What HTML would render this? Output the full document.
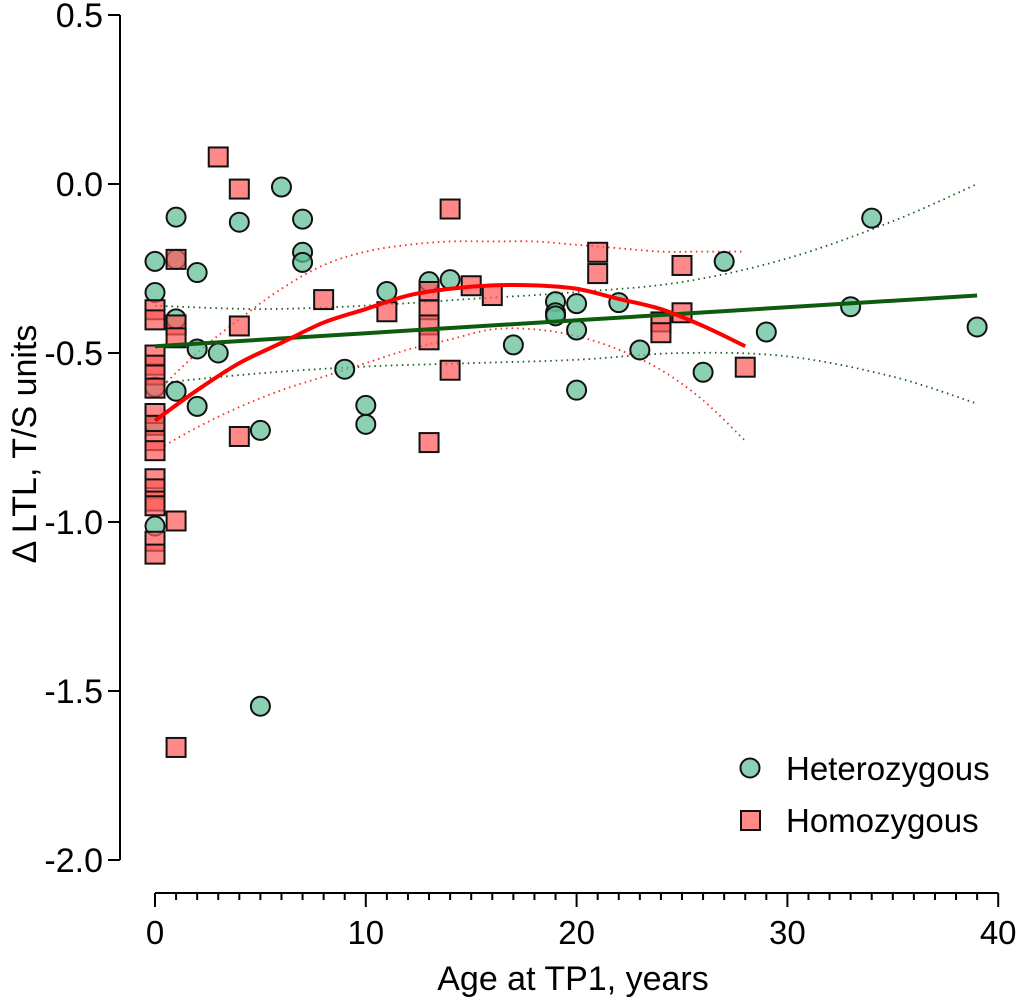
<!DOCTYPE html>
<html><head><meta charset="utf-8"><style>
body{margin:0;background:#fff}
svg text{font-family:"Liberation Sans",sans-serif;fill:#000}
</style></head><body>
<svg id="chart" width="1020" height="1001" viewBox="0 0 1020 1001" xmlns="http://www.w3.org/2000/svg">
<g id="axes"></g>
<g id="fits"></g>
<g id="marks"></g>
<g id="legend">
 <g>
  <circle cx="750" cy="768" r="9.5" fill="rgba(95,190,150,0.72)" stroke="#111" stroke-width="2"/>
  <text x="786" y="780" font-size="33">Heterozygous</text>
 </g>
 <g>
  <rect x="741" y="811" width="19" height="19" fill="rgba(255,90,90,0.72)" stroke="#111" stroke-width="2"/>
  <text x="786" y="832" font-size="33">Homozygous</text>
 </g>
</g>
<text x="573" y="990" font-size="34" text-anchor="middle">Age at TP1, years</text>
<text transform="translate(36,444) rotate(-90)" font-size="34" text-anchor="middle">Δ LTL, T/S units</text>
</svg>
<script>
const hetX=[0,0,0,0,0,1,1,1,1,2,2,2,3,4,5,5,6,7,7,7,9,10,10,11,13,14,17,19,19,19,20,20,20,22,23,26,27,29,33,34,39];
const hetY=[-0.229,-0.321,-0.601,-0.714,-1.012,-0.098,-0.223,-0.399,-0.613,-0.262,-0.488,-0.658,-0.5,-0.113,-0.729,-1.545,-0.009,-0.104,-0.202,-0.232,-0.548,-0.655,-0.711,-0.318,-0.289,-0.283,-0.476,-0.348,-0.381,-0.39,-0.354,-0.432,-0.61,-0.351,-0.491,-0.557,-0.229,-0.438,-0.363,-0.101,-0.423];
const homX=[0,0,0,0,0,0,0,0,0,0,0,0,0,0,0,0,1,1,1,1,1,3,4,4,4,8,11,13,13,13,13,13,14,14,15,16,21,21,24,24,25,25,28];
const homY=[-0.372,-0.402,-0.506,-0.536,-0.565,-0.604,-0.679,-0.714,-0.759,-0.789,-0.872,-0.902,-0.938,-0.952,-1.057,-1.095,-0.223,-0.417,-0.455,-0.997,-1.667,0.08,-0.015,-0.42,-0.747,-0.342,-0.378,-0.318,-0.372,-0.417,-0.461,-0.765,-0.074,-0.551,-0.301,-0.33,-0.202,-0.265,-0.408,-0.44,-0.241,-0.381,-0.542];
const linX=[0,39];
const linY=[-0.48,-0.33];
const gCiX=[0,5,10,15,20,25,30,35,39];
const gCiUp=[-0.36,-0.37,-0.36,-0.34,-0.32,-0.29,-0.22,-0.11,0.0];
const gCiLo=[-0.59,-0.56,-0.54,-0.53,-0.52,-0.50,-0.51,-0.57,-0.65];
const quadX=[0,2,4,6,8,10,12,14,16,18,20,22,24,26,28];
const quadY=[-0.70,-0.61,-0.53,-0.47,-0.41,-0.37,-0.33,-0.31,-0.30,-0.30,-0.31,-0.34,-0.37,-0.42,-0.48];
const rUp=[-0.62,-0.50,-0.40,-0.31,-0.24,-0.20,-0.18,-0.17,-0.17,-0.17,-0.18,-0.19,-0.20,-0.20,-0.20];
const rLo=[-0.79,-0.72,-0.66,-0.61,-0.57,-0.53,-0.49,-0.46,-0.43,-0.43,-0.45,-0.49,-0.55,-0.64,-0.76];
const yTicks=[0.5,0.0,-0.5,-1.0,-1.5,-2.0];
const yTickLabels=["0.5","0.0","-0.5","-1.0","-1.5","-2.0"];
const xTicks=[0,10,20,30,40];

const NS="http://www.w3.org/2000/svg";
const X=v=>155+v*21.08;
const Y=v=>184-v*338;
function mk(tag,attrs,parent){const e=document.createElementNS(NS,tag);for(const k in attrs)e.setAttribute(k,attrs[k]);parent.appendChild(e);return e;}
function smooth(xs,ys){
 const p=xs.map((x,i)=>[X(x),Y(ys[i])]);
 let d='M'+p[0][0]+','+p[0][1];
 for(let i=0;i<p.length-1;i++){
  const p0=p[i-1]||p[i],p1=p[i],p2=p[i+1],p3=p[i+2]||p2;
  const c1=[p1[0]+(p2[0]-p0[0])/6,p1[1]+(p2[1]-p0[1])/6];
  const c2=[p2[0]-(p3[0]-p1[0])/6,p2[1]-(p3[1]-p1[1])/6];
  d+=' C'+c1[0]+','+c1[1]+' '+c2[0]+','+c2[1]+' '+p2[0]+','+p2[1];
 }
 return d;
}
const axes=document.getElementById('axes');
let e=mk('line',{x1:120,y1:Y(0.5),x2:120,y2:Y(-2),stroke:'#000','stroke-width':2},axes);


yTicks.forEach((t,i)=>{
 let l=mk('line',{x1:108,y1:Y(t),x2:120,y2:Y(t),stroke:'#000','stroke-width':2},axes);
 
 
 let tx=mk('text',{x:103,y:Y(t)+12,'font-size':34,'text-anchor':'end'},axes);
 tx.textContent=yTickLabels[i];
 
 
});
e=mk('line',{x1:X(0),y1:893,x2:X(40),y2:893,stroke:'#000','stroke-width':2},axes);


for(let i=0;i<=40;i++){
 let l=mk('line',{x1:X(i),y1:893,x2:X(i),y2:i%10==0?907:900,stroke:'#000','stroke-width':2},axes);
 
 
}
xTicks.forEach(t=>{
 let tx=mk('text',{x:X(t),y:944,'font-size':33,'text-anchor':'middle'},axes);
 tx.textContent=String(t);
 
 
});
const fits=document.getElementById('fits');
function pl(xs,ys,attrs,name){
 const p=mk('path',Object.assign({d:smooth(xs,ys),fill:'none'},attrs),fits);
 
 
}
pl(gCiX,gCiUp,{stroke:'#1a5e1a','stroke-width':1.8,'stroke-dasharray':'1.5 4'},'het-ci-upper');
pl(gCiX,gCiLo,{stroke:'#1a5e1a','stroke-width':1.8,'stroke-dasharray':'1.5 4'},'het-ci-lower');
pl(quadX,rUp,{stroke:'#f22','stroke-width':1.8,'stroke-dasharray':'1.5 4'},'hom-ci-upper');
pl(quadX,rLo,{stroke:'#f22','stroke-width':1.8,'stroke-dasharray':'1.5 4'},'hom-ci-lower');
const marks=document.getElementById('marks');
hetX.forEach((x,i)=>{
 const c=mk('circle',{cx:X(x),cy:Y(hetY[i]),r:9.5,fill:'rgba(95,190,150,0.72)',stroke:'#111','stroke-width':2},marks);
 
 
});
homX.forEach((x,i)=>{
 const r=mk('rect',{x:X(x)-9.5,y:Y(homY[i])-9.5,width:19,height:19,fill:'rgba(255,90,90,0.72)',stroke:'#111','stroke-width':2},marks);
 
 
});
const fits2=mk('g',{},document.getElementById('chart'));


let g=mk('polyline',{points:linX.map((x,i)=>X(x)+','+Y(linY[i])).join(' '),fill:'none',stroke:'#0d5c0d','stroke-width':4},fits2);


let q=mk('path',{d:smooth(quadX,quadY),fill:'none',stroke:'#f00','stroke-width':4},fits2);


</script>
</body></html>
